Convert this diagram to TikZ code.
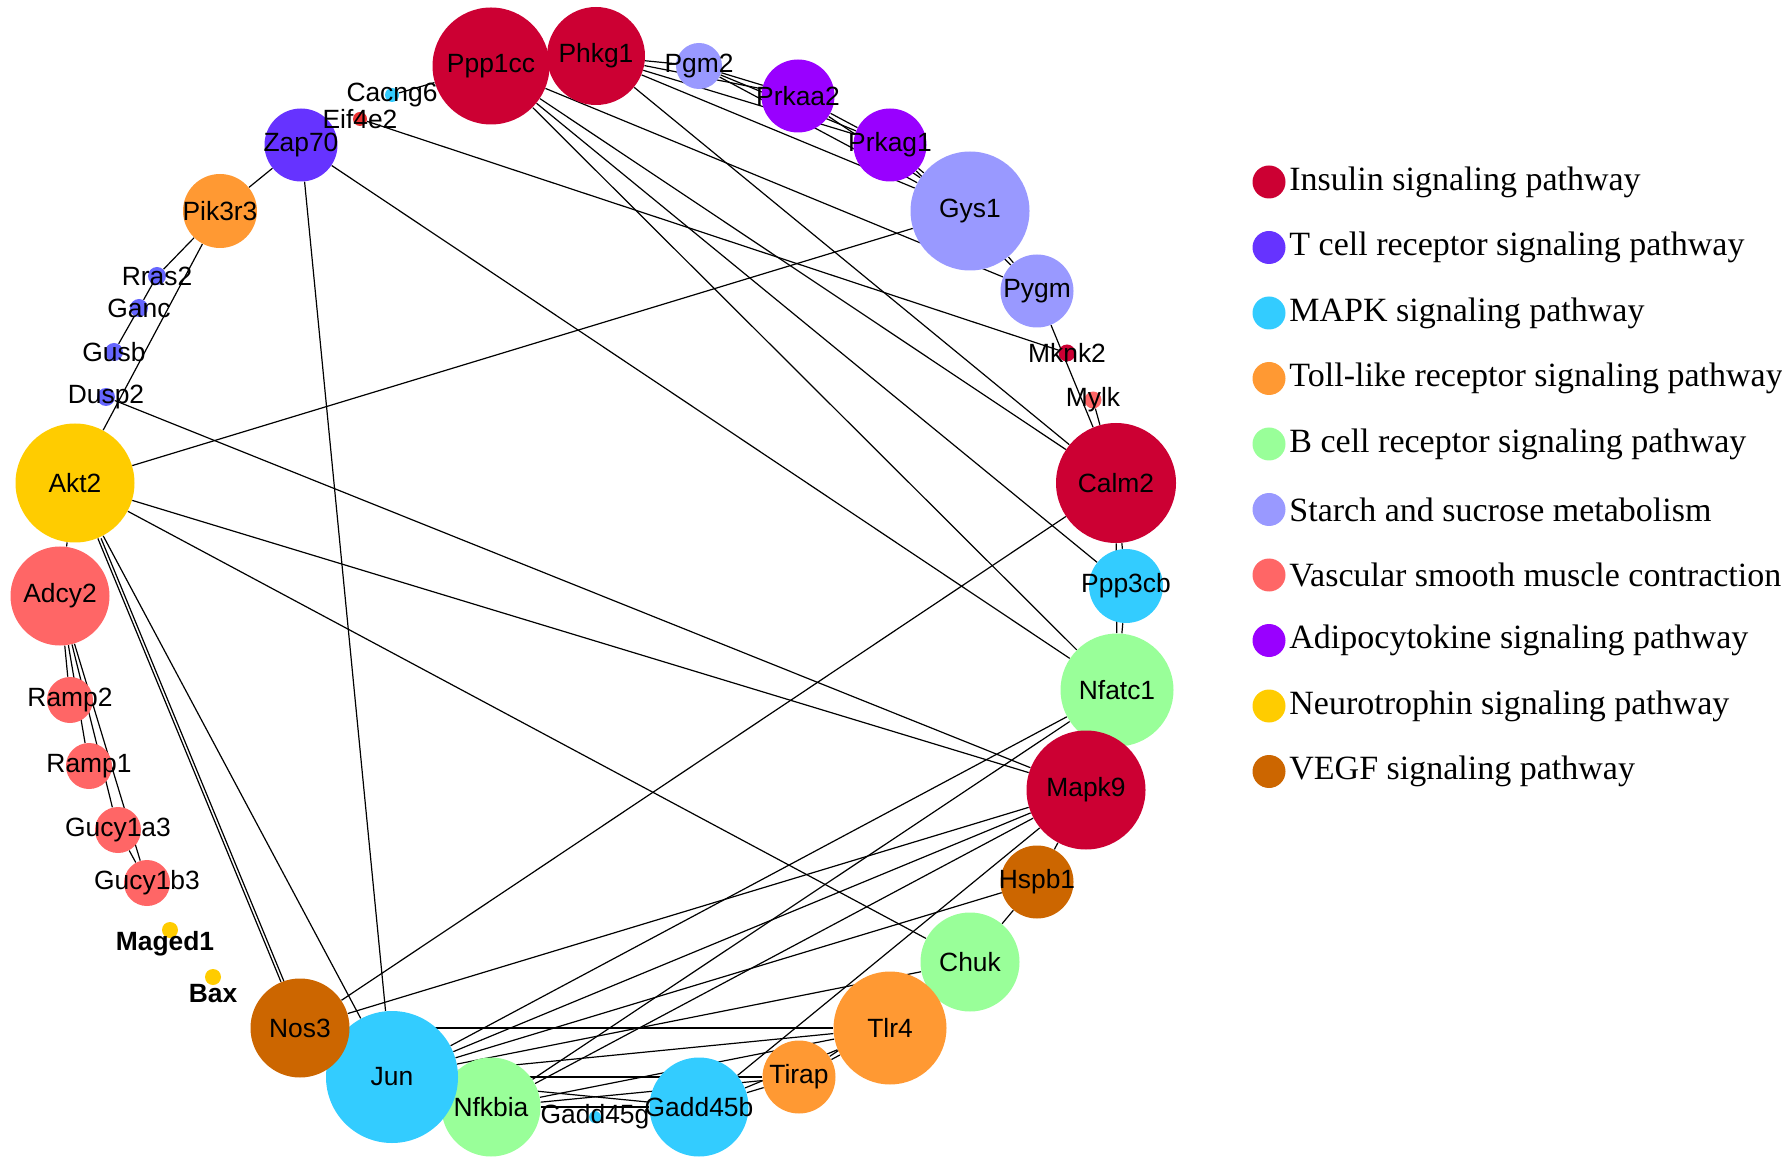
\documentclass[tikz,border=0pt]{standalone}
\usepackage{fontspec}
\setmainfont{Liberation Serif}
\newfontfamily\lblfont{Liberation Sans}
\pgfdeclarelayer{bg}
\pgfsetlayers{bg,main}
\definecolor{cIns}{HTML}{CC0033}
\definecolor{cTcell}{HTML}{6633FF}
\definecolor{cMapk}{HTML}{33CCFF}
\definecolor{cToll}{HTML}{FF9933}
\definecolor{cBcell}{HTML}{99FF99}
\definecolor{cStarch}{HTML}{9999FF}
\definecolor{cVasc}{HTML}{FF6666}
\definecolor{cAdipo}{HTML}{9900FF}
\definecolor{cNeuro}{HTML}{FFCC00}
\definecolor{cVegf}{HTML}{CC6600}
\definecolor{cDot}{HTML}{6666FF}
\definecolor{cEif}{HTML}{EE3333}
\tikzset{
  gn/.style={circle, inner sep=0pt, minimum size=#1*0.5pt, draw=none},
  lbl/.style={font=\lblfont\fontsize{13.2}{14}\selectfont, inner sep=0pt, text=black},
  lblb/.style={font=\lblfont\bfseries\fontsize{13.2}{14}\selectfont, inner sep=0pt, text=black},
  edge/.style={draw=black, line width=0.6pt},
  legdot/.style={circle, inner sep=0pt, minimum size=16.5pt},
  legtxt/.style={anchor=west, inner sep=0pt, font=\fontsize{17}{20}\selectfont}
}
\newcommand\gnd[4]{\node[gn=#4, fill=#3] (#1) at (#2) {};\node[lbl] (#1-t) at (#1) {#1};}
\begin{document}
\begin{tikzpicture}[x=0.5pt,y=-0.5pt]
\useasboundingbox (0,0) rectangle (1782,1165);
% nodes
\gnd{Ppp1cc}{491,66}{cIns}{117}
\gnd{Phkg1}{596,56}{cIns}{98}
\gnd{Pgm2}{699,66}{cStarch}{46}
\gnd{Prkaa2}{798,96}{cAdipo}{73}
\gnd{Prkag1}{890,145}{cAdipo}{73}
\gnd{Gys1}{970,211}{cStarch}{119}
\gnd{Pygm}{1037,291}{cStarch}{73}
\gnd{Mknk2}{1067,353}{cIns}{17}
\gnd{Mylk}{1093,400}{cVasc}{17}
\gnd{Calm2}{1116,483}{cIns}{120}
\gnd{Ppp3cb}{1126,586}{cMapk}{74}
\gnd{Nfatc1}{1117,690}{cBcell}{113}
\gnd{Mapk9}{1086,790}{cIns}{119}
\gnd{Hspb1}{1037,882}{cVegf}{73}
\gnd{Chuk}{970,962}{cBcell}{99}
\gnd{Tlr4}{890,1028}{cToll}{113}
\gnd{Tirap}{799,1077}{cToll}{73}
\gnd{Gadd45b}{699,1107}{cMapk}{99}
\gnd{Gadd45g}{595,1117}{cMapk}{12}
\gnd{Nfkbia}{491,1107}{cBcell}{99}
\gnd{Jun}{392,1077}{cMapk}{132}
\gnd{Nos3}{300,1028}{cVegf}{99}
\node[gn=16, fill=cNeuro] (Bax) at (213,977) {};
\node[lblb] (Bax-t) at (213,994) {Bax};
\node[gn=16, fill=cNeuro] (Maged1) at (170,930) {};
\node[lblb] (Maged1-t) at (165,944) {Maged1};
\gnd{Gucy1b3}{147,883}{cVasc}{46}
\gnd{Gucy1a3}{118,830}{cVasc}{46}
\gnd{Ramp1}{89,766}{cVasc}{46}
\gnd{Ramp2}{70,700}{cVasc}{46}
\gnd{Adcy2}{60,596}{cVasc}{99}
\gnd{Akt2}{75,483}{cNeuro}{119}
\gnd{Dusp2}{106,397}{cDot}{18}
\gnd{Gusb}{114,352}{cDot}{18}
\gnd{Ganc}{139,308}{cDot}{18}
\gnd{Rras2}{157,276}{cDot}{18}
\gnd{Pik3r3}{220,211}{cToll}{74}
\gnd{Zap70}{301,145}{cTcell}{73}
\gnd{Eif4e2}{360,119}{cEif}{14}
\gnd{Cacng6}{392,95}{cMapk}{14}
% edges
\begin{pgfonlayer}{bg}
\foreach \a/\b in {
 Cacng6/Ppp1cc, Eif4e2/Mknk2, Zap70/Pik3r3, Zap70/Jun, Zap70/Nfatc1,
 Pik3r3/Rras2, Rras2/Ganc, Ganc/Gusb, Pik3r3/Akt2, Dusp2/Mapk9,
 Akt2/Gys1, Akt2/Mapk9, Akt2/Chuk, Akt2/Nos3, Akt2/Jun, Akt2/Adcy2,
 Adcy2/Ramp2, Adcy2/Ramp1, Adcy2/Gucy1a3, Adcy2/Gucy1b3, Gucy1a3/Gucy1b3,
 Phkg1/Pgm2, Phkg1/Prkaa2, Phkg1/Prkag1, Phkg1/Gys1, Phkg1/Calm2,
 Pgm2/Prkaa2, Pgm2/Prkag1, Pgm2/Gys1, Prkaa2/Prkag1, Prkaa2/Gys1,
 Prkag1/Gys1, Prkag1/Pygm, Gys1/Pygm, Ppp1cc/Pygm, Ppp1cc/Calm2,
 Ppp1cc/Ppp3cb, Ppp1cc/Nfatc1, Pygm/Calm2, Mylk/Calm2,
 Calm2/Ppp3cb, Ppp3cb/Nfatc1, Calm2/Nfatc1, Mapk9/Hspb1,
 Nos3/Calm2, Nos3/Mapk9, Nos3/Tlr4,
 Jun/Mapk9, Jun/Nfatc1, Jun/Hspb1, Jun/Chuk, Jun/Tlr4, Jun/Tirap, Jun/Gadd45b,
 Nfkbia/Nfatc1, Nfkbia/Mapk9, Nfkbia/Tlr4, Nfkbia/Tirap, Nfkbia/Gadd45b,
 Gadd45b/Mapk9, Gadd45b/Tirap, Gadd45b/Tlr4, Tirap/Tlr4, Tirap/Chuk,
 Chuk/Tlr4, Hspb1/Chuk}
 \draw[edge] (\a) -- (\b);
\draw[edge, transform canvas={xshift=1.6pt}] (Akt2) -- (Nos3);
\end{pgfonlayer}
% legend
\foreach \i/\c/\t in {0/cIns/Insulin signaling pathway,
 1/cTcell/T cell receptor signaling pathway,
 2/cMapk/MAPK signaling pathway,
 3/cToll/Toll-like receptor signaling pathway,
 4/cBcell/B cell receptor signaling pathway,
 5/cStarch/Starch and sucrose metabolism,
 6/cVasc/Vascular smooth muscle contraction,
 7/cAdipo/Adipocytokine signaling pathway,
 8/cNeuro/Neurotrophin signaling pathway,
 9/cVegf/VEGF signaling pathway}{
 \node[legdot, fill=\c] (leg\i) at (1269,182+65.5*\i) {};
 \node[legtxt] (legt\i) at (1289,182+65.5*\i) {\t};
}
\end{tikzpicture}
\end{document}
